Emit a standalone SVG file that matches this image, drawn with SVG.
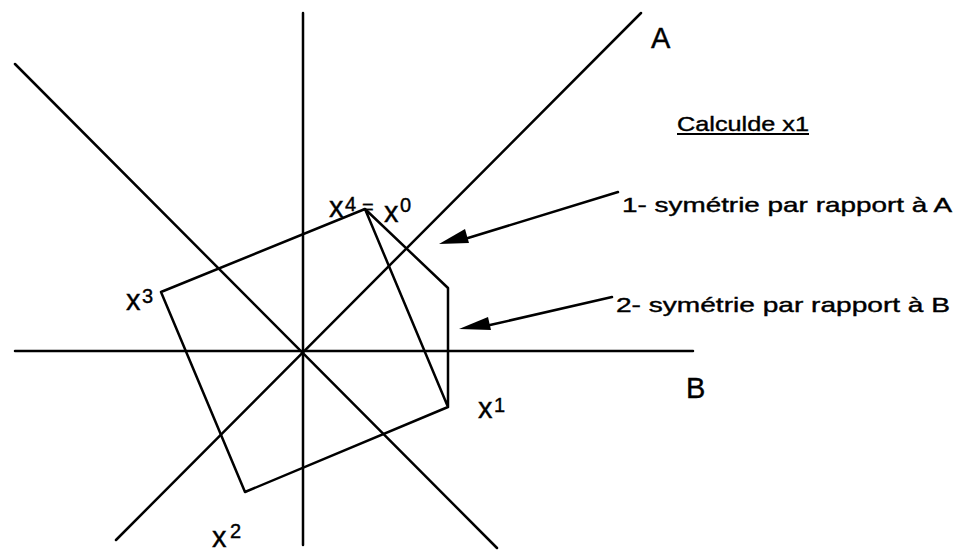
<svg xmlns="http://www.w3.org/2000/svg" width="954" height="553" viewBox="0 0 954 553">
<style>
.ln{stroke:#000;stroke-width:2.5;fill:none;stroke-linecap:round;stroke-linejoin:round}
.t{font-family:"Liberation Sans",Arial,sans-serif;fill:#000;stroke:#000;stroke-width:0.4}
.big{font-size:29px}
.lbl{font-size:21px}
.sup{font-size:20px}
</style>
<rect width="954" height="553" fill="#fff"/>
<g id="axes">
<line class="ln" x1="303" y1="13" x2="303" y2="545"/>
<line class="ln" x1="15" y1="351" x2="693" y2="351"/>
<line class="ln" x1="116" y1="540" x2="641" y2="13"/>
<line class="ln" x1="15" y1="64" x2="497" y2="548"/>
</g>
<g id="polygon">
<polyline class="ln" points="365,209 448,288 448,407 245,492 161,292 365,209 448,407"/>
</g>
<g id="connectors">
<path class="ln" d="M618,192 L468,238"/>
<polygon points="439,244 465,229 469,243" fill="#000"/>
<path class="ln" d="M612,297 L490,325"/>
<polygon points="459,329 488,317 491,330" fill="#000"/>
</g>
<g id="label-A"><text class="t big" x="651" y="48">A</text></g>
<g id="label-B"><text class="t big" x="686" y="398">B</text></g>
<g id="label-x0"><text class="t big" x="329" y="217">x</text><text class="t sup" x="345" y="211">4</text><text class="t sup" x="362" y="214">=</text><text class="t big" x="384" y="222">x</text><text class="t sup" x="400" y="212">0</text></g>
<g id="label-x1"><text class="t big" x="478" y="418">x</text><text class="t sup" x="494" y="412">1</text></g>
<g id="label-x2"><text class="t big" x="212" y="547">x</text><text class="t sup" x="230" y="538">2</text></g>
<g id="label-x3"><text class="t big" x="126" y="310">x</text><text class="t sup" x="142" y="303">3</text></g>
<g id="title">
<text class="t lbl" x="677" y="131" textLength="132" lengthAdjust="spacingAndGlyphs">Calculde x1</text>
<line x1="677" y1="134" x2="809" y2="134" stroke="#000" stroke-width="2"/>
</g>
<g id="step1"><text class="t lbl" x="622" y="212" textLength="330" lengthAdjust="spacingAndGlyphs">1-  symétrie par rapport à A</text></g>
<g id="step2"><text class="t lbl" x="616" y="312" textLength="334" lengthAdjust="spacingAndGlyphs">2-  symétrie par rapport à B</text></g>
</svg>
